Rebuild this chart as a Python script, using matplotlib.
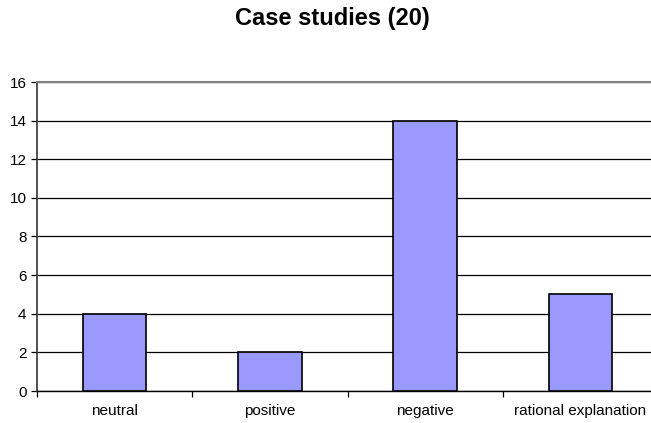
import matplotlib
matplotlib.use("Agg")
import matplotlib.pyplot as plt
import numpy as np

categories = ["neutral", "positive", "negative", "rational explanation"]
counts = [4, 2, 14, 5]
y_ticks = [0, 2, 4, 6, 8, 10, 12, 14, 16]
title = "Case studies (20)"

plt.rcParams["font.family"] = ["Liberation Sans", "DejaVu Sans"]

W, H = 651, 423
fig = plt.figure(figsize=(W / 100, H / 100), dpi=100)
# plot area (pixel coordinates -> figure fractions); right edge runs past the figure
left, right, top, bottom = 37, 658, 82, 391
ax = fig.add_axes([left / W, 1 - bottom / H, (right - left) / W, (bottom - top) / H])

x = np.arange(len(categories))
ax.bar(x, counts, width=0.41, color="#9999FF", edgecolor="black", linewidth=1.2, zorder=3)

ax.set_xlim(-0.5, len(categories) - 0.5)
ax.set_ylim(0, 16)
ax.set_yticks(y_ticks)
ax.set_yticklabels([str(v) for v in y_ticks], fontsize=11)
ax.yaxis.grid(True, color="black", linewidth=0.9, zorder=0)

# category labels centred, tick marks at the category boundaries
ax.set_xticks(x)
ax.set_xticklabels(categories, fontsize=11)
ax.tick_params(axis="x", which="major", length=0, pad=9)
ax.set_xticks(np.arange(len(categories) + 1) - 0.5, minor=True)
ax.tick_params(axis="x", which="minor", length=4, width=0.9, direction="out", color="black")
ax.tick_params(axis="y", length=4, width=0.9, direction="out", pad=3.5, color="black")

for s in ["top", "right"]:
    ax.spines[s].set_visible(False)
ax.spines["left"].set_color("#333333")
ax.spines["bottom"].set_color("black")
ax.spines["left"].set_linewidth(1.2)
ax.spines["bottom"].set_linewidth(1.0)
ax.axhline(16, color="#808080", linewidth=1.5, zorder=4, clip_on=False)

fig.text(332 / W, 1 - 18 / H, title, ha="center", va="center", fontsize=17, fontweight="bold")

fig.savefig("out.png", dpi=100)
